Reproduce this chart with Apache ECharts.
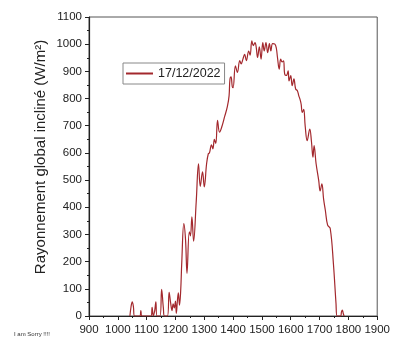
<!DOCTYPE html>
<html>
<head>
<meta charset="utf-8">
<script src="https://cdn.jsdelivr.net/npm/echarts@6/dist/echarts.min.js"></script>
<style>html,body{margin:0;padding:0;background:#fff;}#c{width:393px;height:340px;}</style>
</head>
<body>
<div id="c"></div>
<script>
const seriesName = '17/12/2022';
const yTitle = 'Rayonnement global incliné (W/m²)';
const footer = 'I am Sorry !!!!';
const times = [1042,1046,1050,1054,1058,1076,1080,1083,1115,1119,1123,1128,1132,1136,1146,1152,1158,1162,1172,1178,1183,1188,1192,1196,1200,1203,1207,1210,1214,1218,1222,1229,1235,1240,1248,1252,1257,1263,1272,1280,1286,1294,1300,1308,1314,1318,1325,1330,1335,1340,1346,1353,1362,1371,1380,1386,1389,1393,1397,1400,1408,1415,1423,1428,1434,1440,1446,1454,1459,1465,1470,1476,1480,1485,1491,1497,1503,1508,1514,1520,1526,1531,1537,1545,1550,1554,1560,1565,1570,1575,1579,1585,1591,1594,1600,1605,1611,1617,1623,1628,1632,1636,1640,1645,1650,1657,1666,1672,1677,1681,1688,1697,1702,1708,1714,1720,1728,1737,1748,1757,1761,1773,1776,1779,1782,1785];
const irradiance = [0,35,52,35,0,0,20,0,0,32,0,20,52,0,0,98,30,0,0,87,50,20,45,30,55,10,60,85,40,90,200,340,280,157,310,295,365,275,420,560,477,530,475,560,597,600,630,615,650,635,720,676,700,735,770,810,870,880,845,840,920,896,940,927,945,963,939,975,960,1012,995,1006,990,951,990,945,1006,975,1006,969,1002,975,1002,1000,985,951,908,945,935,939,890,885,902,865,884,847,872,835,829,810,798,780,749,760,700,645,688,640,584,627,560,499,460,486,430,389,334,322,193,47,0,0,15,22,10,0];
const xTicks = [900,1000,1100,1200,1300,1400,1500,1600,1700,1800,1900];
const yTicks = [0,100,200,300,400,500,600,700,800,900,1000,1100];

const chart = echarts.init(document.getElementById('c'), null, {renderer:'canvas'});
const font = 'Liberation Sans, Arial, sans-serif';
chart.setOption({
  animation:false,
  backgroundColor:'#fff',
  textStyle:{fontFamily:font},
  grid:{left:89,right:11,top:17,bottom:24,show:true,borderColor:'#555',borderWidth:1},
  legend:{
    left:123, top:63, orient:'horizontal',
    data:[{name:seriesName, icon:'rect'}],
    itemWidth:27, itemHeight:2, itemGap:5,
    padding:[4,4,4,3],
    borderColor:'#888', borderWidth:1,
    textStyle:{fontSize:12.5, color:'#222', fontFamily:font}
  },
  xAxis:{
    type:'value', min:xTicks[0], max:xTicks[xTicks.length-1], interval:100,
    axisLine:{lineStyle:{color:'#222',width:1.2}},
    axisTick:{inside:false,length:4,lineStyle:{color:'#222'}},
    minorTick:{show:true,splitNumber:2,length:2,lineStyle:{color:'#222'}},
    splitLine:{show:false},
    axisLabel:{fontSize:11.5,color:'#222',margin:8,fontFamily:font,formatter:v=>String(v)}
  },
  yAxis:{
    type:'value', min:yTicks[0], max:yTicks[yTicks.length-1], interval:100,
    axisLine:{show:true,lineStyle:{color:'#222',width:1.2}},
    axisTick:{show:true,inside:false,length:4,lineStyle:{color:'#222'}},
    minorTick:{show:true,splitNumber:2,length:2,lineStyle:{color:'#222'}},
    splitLine:{show:false},
    axisLabel:{fontSize:11.5,color:'#222',margin:7,fontFamily:font,formatter:v=>String(v)}
  },
  graphic:[
    {type:'text',left:14,top:331,style:{text:footer,fontSize:6,fill:'#333',fontFamily:font}},
    {type:'text',x:41,y:157,rotation:Math.PI/2,style:{text:yTitle,fontSize:15,fill:'#222',fontFamily:font,align:'center',verticalAlign:'middle'}}
  ],
  series:[{
    name:seriesName, type:'line', smooth:0.4, symbol:'none',
    lineStyle:{color:'#a3282d',width:1.2},
    itemStyle:{color:'#a3282d'},
    data:times.map((t,i)=>[t,irradiance[i]])
  }]
});
</script>
</body>
</html>
